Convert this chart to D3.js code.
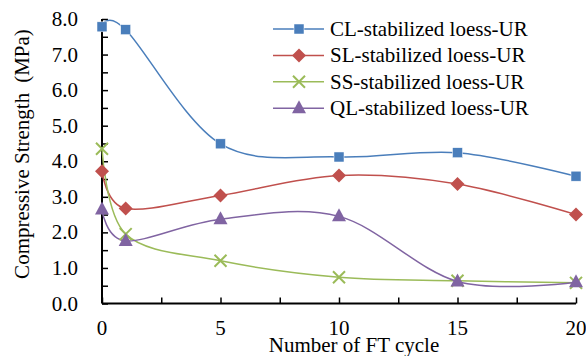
<!DOCTYPE html>
<html>
<head>
<meta charset="utf-8">
<script src="https://cdn.jsdelivr.net/npm/d3@7"></script>
<style>
body { margin: 0; background: #fff; }
text { font-family: "Liberation Serif", "Times New Roman", serif; fill: #000; }
</style>
</head>
<body>
<div class="chart"></div>
<script>
var svgWidth = 586;
var svgHeight = 356;

var margin = { top: 19, right: 10, bottom: 52, left: 102 };
var width = 576 - margin.left;
var height = 303.5 - margin.top;

// data
var cycles = [0, 1, 5, 10, 15, 20];
var seriesNames = ["CL-stabilized loess-UR", "SL-stabilized loess-UR", "SS-stabilized loess-UR", "QL-stabilized loess-UR"];
var clValues = [7.78, 7.70, 4.49, 4.12, 4.24, 3.58];
var slValues = [3.72, 2.67, 3.04, 3.60, 3.36, 2.50];
var ssValues = [4.35, 1.95, 1.20, 0.74, 0.64, 0.58];
var qlValues = [2.64, 1.76, 2.37, 2.45, 0.62, 0.60];
var xTicks = [0, 5, 10, 15, 20];
var yTicks = [0, 1, 2, 3, 4, 5, 6, 7, 8];

var series = [
    { name: seriesNames[0], values: clValues, line: "#4A7EBB", fill: "#4A7EBB", marker: "square" },
    { name: seriesNames[1], values: slValues, line: "#C0504D", fill: "#C0504D", marker: "diamond" },
    { name: seriesNames[2], values: ssValues, line: "#9BBB59", fill: "none", marker: "cross" },
    { name: seriesNames[3], values: qlValues, line: "#8064A2", fill: "#8064A2", marker: "triangle" }
];

var svg = d3.select(".chart")
    .append("svg")
    .attr("width", svgWidth)
    .attr("height", svgHeight);

var chartGroup = svg.append("g")
    .attr("transform", `translate(${margin.left}, ${margin.top})`);

var xScale = d3.scaleLinear().domain([0, 20]).range([0, width]);
var yScale = d3.scaleLinear().domain([0, 8]).range([height, 0]);

// axes: inward minor ticks every half unit
var bottomAxis = d3.axisTop(xScale)
    .tickValues(d3.range(0, 20.01, 2.5))
    .tickSize(6)
    .tickFormat("");
var leftAxis = d3.axisRight(yScale)
    .tickValues(d3.range(0, 8.01, 0.5))
    .tickSize(6)
    .tickFormat("");

var xAxisG = chartGroup.append("g")
    .attr("transform", `translate(0, ${height})`)
    .call(bottomAxis);
var yAxisG = chartGroup.append("g").call(leftAxis);

[xAxisG, yAxisG].forEach(function(g) {
    g.select(".domain").attr("stroke", "#000").attr("stroke-width", 2);
    g.selectAll(".tick line").attr("stroke", "#000").attr("stroke-width", 1.5);
});
xAxisG.select(".domain").attr("d", `M0,0H${width}`);
yAxisG.select(".domain").attr("d", `M0,${height}V0`);

chartGroup.selectAll(".ylab")
    .data(yTicks)
    .enter()
    .append("text")
    .attr("class", "ylab")
    .attr("x", -24)
    .attr("y", d => yScale(d) + 7)
    .attr("text-anchor", "end")
    .attr("font-size", "21px")
    .text(d => d.toFixed(1));

chartGroup.selectAll(".xlab")
    .data(xTicks)
    .enter()
    .append("text")
    .attr("class", "xlab")
    .attr("x", d => xScale(d))
    .attr("y", height + 31)
    .attr("text-anchor", "middle")
    .attr("font-size", "21px")
    .text(d => d);

chartGroup.append("text")
    .attr("x", 252)
    .attr("y", height + 48.5)
    .attr("text-anchor", "middle")
    .attr("font-size", "21px")
    .text("Number of FT cycle");

var yTitle = svg.append("text")
    .attr("transform", "translate(29, 154) rotate(-90)")
    .attr("text-anchor", "middle")
    .attr("font-size", "21px");
yTitle.append("tspan").text("Compressive Strength");
yTitle.append("tspan").attr("dx", 10).text("(MPa)");

function drawMarker(g, type, fill, stroke) {
    if (type === "square") {
        g.append("rect").attr("x", -5).attr("y", -5).attr("width", 10).attr("height", 10)
            .attr("fill", fill).attr("stroke", "#fff").attr("stroke-width", 0.5);
    } else if (type === "diamond") {
        g.append("path").attr("d", "M0,-7L7,0L0,7L-7,0Z").attr("fill", fill);
    } else if (type === "triangle") {
        g.append("path").attr("d", "M0,-8L7,5L-7,5Z").attr("fill", fill);
    } else {
        g.append("path").attr("d", "M-6,-6L6,6M-6,6L6,-6")
            .attr("stroke", stroke).attr("stroke-width", 2).attr("fill", "none");
    }
}

var lineGen = d3.line()
    .x((d, i) => xScale(cycles[i]))
    .y(d => yScale(d))
    .curve(d3.curveCardinal.tension(0));

series.forEach(function(s) {
    chartGroup.append("path")
        .datum(s.values)
        .attr("fill", "none")
        .attr("stroke", s.line)
        .attr("stroke-width", 1.5)
        .attr("d", lineGen);
});

series.forEach(function(s) {
    s.values.forEach(function(v, i) {
        var m = chartGroup.append("g")
            .attr("transform", `translate(${xScale(cycles[i])}, ${yScale(v)})`);
        drawMarker(m, s.marker, s.fill, s.line);
    });
});

// legend
var legend = svg.append("g");
series.forEach(function(s, i) {
    var row = legend.append("g").attr("transform", `translate(0, ${29 + i * 26.4})`);
    row.append("line")
        .attr("x1", 273).attr("x2", 324)
        .attr("stroke", s.line).attr("stroke-width", 1.5);
    var m = row.append("g").attr("transform", "translate(299, 0)");
    drawMarker(m, s.marker, s.fill, s.line);
    row.append("text")
        .attr("x", 330)
        .attr("y", 7)
        .attr("font-size", "21px")
        .text(s.name);
});
</script>
</body>
</html>
